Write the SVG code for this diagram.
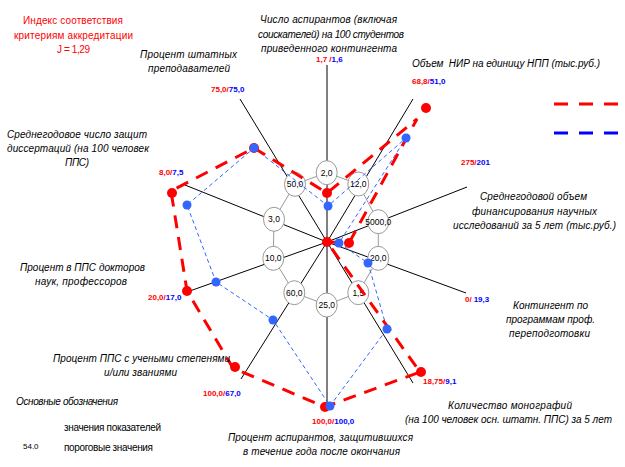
<svg xmlns="http://www.w3.org/2000/svg" width="625" height="467" viewBox="0 0 625 467">
<style>
text{font-family:"Liberation Sans",Arial,sans-serif}
.it{font-style:italic;font-size:10px;fill:#000}
.rg{font-size:10px;fill:#000}
.tr{font-size:10px;fill:#ff0000}
.val{font-size:8px;font-weight:bold}
.r{fill:#ff0000}
.b{fill:#0000ff}
.spoke{stroke:#000;stroke-width:1}
.ring{stroke:#999;stroke-width:1;fill:none}
.node ellipse{fill:#fff;stroke:#999;stroke-width:1}
.node text{font-size:8.5px;fill:#000;text-anchor:middle}
.redline{fill:none;stroke:#ff0000;stroke-width:3;stroke-dasharray:13 9}
.blueline{fill:none;stroke:#3366ff;stroke-width:1;stroke-dasharray:4 3}
.rd{fill:#ff0000}
.bd{fill:#3366ff}
</style>
<rect width="625" height="467" fill="#fff"/>
<g id="connectors">
<line class="spoke" x1="327" y1="242" x2="327" y2="65"/>
<line class="spoke" x1="327" y1="242" x2="413" y2="99"/>
<line class="spoke" x1="327" y1="242" x2="467" y2="187"/>
<line class="spoke" x1="327" y1="242" x2="466" y2="293"/>
<line class="spoke" x1="327" y1="242" x2="413" y2="383"/>
<line class="spoke" x1="327" y1="242" x2="327" y2="410"/>
<line class="spoke" x1="327" y1="242" x2="241" y2="379"/>
<line class="spoke" x1="327" y1="242" x2="187" y2="292"/>
<line class="spoke" x1="327" y1="242" x2="185" y2="185"/>
<line class="spoke" x1="327" y1="242" x2="240" y2="99"/>
<polygon class="ring" points="326.7,172.7 358.3,184 378.3,221.7 378.3,258.3 358.3,292.7 326.7,305 294.3,292.7 273.3,258.3 274,219.3 295,184.3"/>
</g>
<g id="node-2-0" class="node"><ellipse cx="326.7" cy="172.7" rx="10.5" ry="12"/><text x="326.7" y="175.7">2,0</text></g>
<g id="node-12-0" class="node"><ellipse cx="358.3" cy="184" rx="10.5" ry="12"/><text x="358.3" y="187">12,0</text></g>
<g id="node-5000-0" class="node"><ellipse cx="378.3" cy="221.7" rx="10.5" ry="12"/><text x="378.3" y="224.7">5000,0</text></g>
<g id="node-20-0" class="node"><ellipse cx="378.3" cy="258.3" rx="10.5" ry="12"/><text x="378.3" y="261.3">20,0</text></g>
<g id="node-1-5" class="node"><ellipse cx="358.3" cy="292.7" rx="10.5" ry="12"/><text x="358.3" y="295.7">1,5</text></g>
<g id="node-25-0" class="node"><ellipse cx="326.7" cy="305" rx="10.5" ry="12"/><text x="326.7" y="308">25,0</text></g>
<g id="node-60-0" class="node"><ellipse cx="294.3" cy="292.7" rx="10.5" ry="12"/><text x="294.3" y="295.7">60,0</text></g>
<g id="node-10-0" class="node"><ellipse cx="273.3" cy="258.3" rx="10.5" ry="12"/><text x="273.3" y="261.3">10,0</text></g>
<g id="node-3-0" class="node"><ellipse cx="274" cy="219.3" rx="10.5" ry="12"/><text x="274" y="222.3">3,0</text></g>
<g id="node-50-0" class="node"><ellipse cx="295" cy="184.3" rx="10.5" ry="12"/><text x="295" y="187.3">50,0</text></g>
<g id="series-thresholds">
<path class="blueline" d="M254,148 L328,206 L406,138 L339,243 L368,263 L387,329 L330,406 L273,320 L216,282 L187,205 Z"/>
</g>
<g id="series-values">
<path class="redline" d="M254,148 L327,193 L417,119 L349,243 L327,242 L420,372 L325,407 L233,368 L187,291 L171,191 Z"/>
<circle class="rd" cx="327" cy="193" r="5"/>
<circle class="rd" cx="426" cy="108" r="5"/>
<circle class="rd" cx="349" cy="243" r="5"/>
<circle class="rd" cx="327" cy="242" r="5"/>
<circle class="rd" cx="421" cy="372" r="5"/>
<circle class="rd" cx="325" cy="407" r="5"/>
<circle class="rd" cx="235" cy="367" r="5"/>
<circle class="rd" cx="187" cy="291" r="5"/>
<circle class="rd" cx="172" cy="193" r="5"/>
<circle class="rd" cx="254" cy="148" r="5"/>
</g>
<g id="threshold-dots">
<circle class="bd" cx="328" cy="206" r="4.5"/>
<circle class="bd" cx="406" cy="138" r="4.5"/>
<circle class="bd" cx="339" cy="243" r="4.5"/>
<circle class="bd" cx="368" cy="263" r="4.5"/>
<circle class="bd" cx="387" cy="329" r="4.5"/>
<circle class="bd" cx="330" cy="406" r="4.5"/>
<circle class="bd" cx="273" cy="320" r="4.5"/>
<circle class="bd" cx="216" cy="282" r="4.5"/>
<circle class="bd" cx="187" cy="205" r="4.5"/>
<circle class="bd" cx="254" cy="148" r="4.5"/>
</g>
<g id="legend-lines">
<line x1="554" y1="104" x2="619" y2="104" stroke="#ff0000" stroke-width="3" stroke-dasharray="14 11"/>
<line x1="554" y1="133" x2="619" y2="133" stroke="#0000ff" stroke-width="3" stroke-dasharray="14 11"/>
</g>
<g id="title">
<text class="tr" x="23" y="24" textLength="100" lengthAdjust="spacing">Индекс соответствия</text>
<text class="tr" x="14" y="39" textLength="119" lengthAdjust="spacing">критериям аккредитации</text>
<text class="tr" x="57" y="53" textLength="33" lengthAdjust="spacing">J = 1,29</text>
</g>
<g id="axis-1">
<text class="it" x="260" y="23" textLength="137" lengthAdjust="spacing">Число аспирантов (включая</text>
<text class="it" x="258" y="38" textLength="146" lengthAdjust="spacing">соискателей) на 100 студентов</text>
<text class="it" x="261" y="52" textLength="136" lengthAdjust="spacing">приведенного контингента</text>
<text class="val" x="316" y="62"><tspan class="r">1,7 /</tspan><tspan class="b">1,6</tspan></text>
</g>
<g id="axis-2">
<text class="it" x="412" y="67" textLength="188" lengthAdjust="spacing" xml:space="preserve">Объем  НИР на единицу НПП (тыс.руб.)</text>
<text class="val" x="412" y="84"><tspan class="r">68,8/</tspan><tspan class="b">51,0</tspan></text>
</g>
<g id="axis-3">
<text class="val" x="461" y="165"><tspan class="r">275/</tspan><tspan class="b">201</tspan></text>
<text class="it" x="480" y="200" textLength="107" lengthAdjust="spacing">Среднегодовой объем</text>
<text class="it" x="472" y="215" textLength="125" lengthAdjust="spacing">финансирования научных</text>
<text class="it" x="453" y="229" textLength="163" lengthAdjust="spacing">исследований за 5 лет (тыс.руб.)</text>
</g>
<g id="axis-4">
<text class="val" x="465" y="302"><tspan class="r">0/</tspan><tspan class="b" dx="2">19,3</tspan></text>
<text class="it" x="513" y="309" textLength="75" lengthAdjust="spacing">Контингент по</text>
<text class="it" x="506" y="323" textLength="89" lengthAdjust="spacing">программам проф.</text>
<text class="it" x="509" y="337" textLength="81" lengthAdjust="spacing">переподготовки</text>
</g>
<g id="axis-5">
<text class="val" x="423" y="384"><tspan class="r">18,75/</tspan><tspan class="b">9,1</tspan></text>
<text class="it" x="448" y="409" textLength="124" lengthAdjust="spacing">Количество монографий</text>
<text class="it" x="405" y="423" textLength="207" lengthAdjust="spacing">(на 100 человек осн. штатн. ППС) за 5 лет</text>
</g>
<g id="axis-6">
<text class="val" x="312" y="424"><tspan class="r">100,0/</tspan><tspan class="b">100,0</tspan></text>
<text class="it" x="228" y="441" textLength="185" lengthAdjust="spacing">Процент аспирантов, защитившихся</text>
<text class="it" x="243" y="455" textLength="157" lengthAdjust="spacing">в течение года после окончания</text>
</g>
<g id="axis-7">
<text class="val" x="203" y="396"><tspan class="r">100,0/</tspan><tspan class="b">67,0</tspan></text>
<text class="it" x="53" y="362" textLength="177" lengthAdjust="spacing">Процент ППС с учеными степенями</text>
<text class="it" x="104" y="376" textLength="73" lengthAdjust="spacing">и/или званиями</text>
</g>
<g id="axis-8">
<text class="val" x="148" y="300"><tspan class="r">20,0/</tspan><tspan class="b">17,0</tspan></text>
<text class="it" x="20" y="271" textLength="125" lengthAdjust="spacing">Процент в ППС докторов</text>
<text class="it" x="35" y="285" textLength="92" lengthAdjust="spacing">наук, профессоров</text>
</g>
<g id="axis-9">
<text class="val" x="159" y="175"><tspan class="r">8,0/</tspan><tspan class="b">7,5</tspan></text>
<text class="it" x="7" y="138" textLength="140" lengthAdjust="spacing">Среднегодовое число защит</text>
<text class="it" x="7" y="152" textLength="142" lengthAdjust="spacing">диссертаций (на 100 человек</text>
<text class="it" x="65" y="166" textLength="24" lengthAdjust="spacing">ППС)</text>
</g>
<g id="axis-10">
<text class="val" x="211" y="92"><tspan class="r">75,0/</tspan><tspan class="b">75,0</tspan></text>
<text class="it" x="140" y="58" textLength="97" lengthAdjust="spacing">Процент штатных</text>
<text class="it" x="148" y="72" textLength="82" lengthAdjust="spacing">преподавателей</text>
</g>
<g id="legend">
<text class="it" x="16" y="405" textLength="102" lengthAdjust="spacing">Основные обозначения</text>
<text class="rg" x="64" y="431" textLength="97" lengthAdjust="spacing">значения показателей</text>
<text class="rg" x="23" y="449" style="font-size:8px">54.0</text>
<text class="rg" x="64" y="451" textLength="89" lengthAdjust="spacing">пороговые значения</text>
</g>
</svg>
